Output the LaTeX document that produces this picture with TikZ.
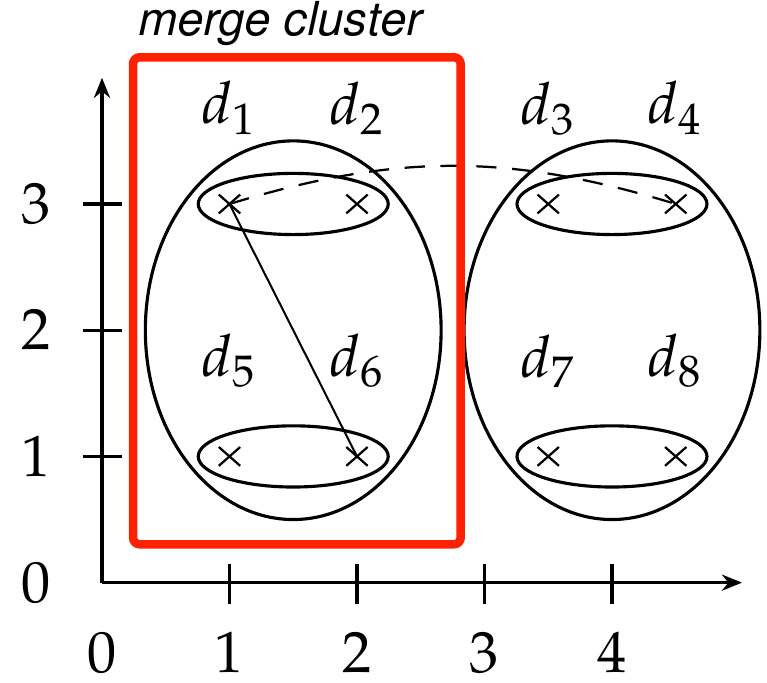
\documentclass[tikz,border=0pt]{standalone}
\usepackage[T1]{fontenc}
\usepackage{mathpazo}
\usepackage[scaled=0.95]{helvet}
\usepackage{tikz}
\usetikzlibrary{positioning,shapes.geometric,shapes.misc,arrows.meta}
\definecolor{mergered}{RGB}{255,34,0}
\newcommand{\doc}[1]{\ensuremath{d_{#1}}}

\begin{document}
\begin{tikzpicture}[x=1cm, y=0.99cm, font=\fontsize{13}{15}\selectfont]
  \tikzset{every node/.style={inner sep=0pt},
    point/.style={cross out,draw,line width=0.5pt,minimum width=0.15cm,minimum height=0.13cm},
    pair/.style={ellipse,draw,line width=0.7pt,minimum width=1.49cm,minimum height=0.48cm},
    cluster/.style={ellipse,draw,line width=0.7pt,minimum width=2.32cm,minimum height=2.97cm},
    axis/.style={line width=0.7pt,-{Stealth[length=4.5pt,width=3.6pt]}},
    tick/.style={line width=0.7pt},
    mergebox/.style={draw=mergered,line width=1.9pt,rounded corners=1.5pt}}
  \useasboundingbox (-0.8,-0.792) rectangle (5.216,4.616);
  \coordinate (O) at (0,0);
  \coordinate (x-end) at (5.02,0);
  \coordinate (y-end) at (0,4.0);
  \draw[axis] (O) -- (x-end);
  \draw[axis] (O) -- (y-end);
  \draw[tick] (1,-0.17) -- (1,0.15);
  \draw[tick] (2,-0.17) -- (2,0.15);
  \draw[tick] (3,-0.17) -- (3,0.15);
  \draw[tick] (4,-0.17) -- (4,0.15);
  \draw[tick] (-0.15,1) -- (0.16,1);
  \draw[tick] (-0.15,2) -- (0.16,2);
  \draw[tick] (-0.15,3) -- (0.16,3);
  \node (xl-0) at (0,-0.555) {$0$};
  \node (xl-1) at (1,-0.555) {$1$};
  \node (xl-2) at (2,-0.555) {$2$};
  \node (xl-3) at (3,-0.555) {$3$};
  \node (xl-4) at (4,-0.555) {$4$};
  \node (yl-0) at (-0.52,0) {$0$};
  \node (yl-1) at (-0.52,1) {$1$};
  \node (yl-2) at (-0.52,2) {$2$};
  \node (yl-3) at (-0.52,3) {$3$};

  \node[cluster] (clu-1) at (1.5,2) {};
  \node[cluster] (clu-2) at (4.0,2) {};
  \node[pair] (pair-1-1) at (1.5,3) {};
  \node[pair] (pair-1-2) at (1.5,1) {};
  \node[pair] (pair-2-1) at (4.0,3) {};
  \node[pair] (pair-2-2) at (4.0,1) {};

  \node[point] (X-1) at (1,3) {};
  \node[point] (X-2) at (2,3) {};
  \node[point] (X-3) at (3.5,3) {};
  \node[point] (X-4) at (4.5,3) {};
  \node[point] (X-5) at (1,1) {};
  \node[point] (X-6) at (2,1) {};
  \node[point] (X-7) at (3.5,1) {};
  \node[point] (X-8) at (4.5,1) {};
  \node[above=0.46cm of X-1] (L-1) {\doc{1}};
  \node[above=0.46cm of X-2] (L-2) {\doc{2}};
  \node[above=0.46cm of X-3] (L-3) {\doc{3}};
  \node[above=0.46cm of X-4] (L-4) {\doc{4}};
  \node[above=0.46cm of X-5] (L-5) {\doc{5}};
  \node[above=0.46cm of X-6] (L-6) {\doc{6}};
  \node[above=0.46cm of X-7] (L-7) {\doc{7}};
  \node[above=0.46cm of X-8] (L-8) {\doc{8}};

  \draw[line width=0.45pt] (X-1.center) -- (X-6.center);
  \draw[line width=0.5pt,dash pattern=on 4.5pt off 3.5pt] (X-1.center) to[bend left=17] (X-4.center);

  \node[mergebox,anchor=south west,minimum width=2.57cm,minimum height=3.82cm] (merge) at (0.21,0.27) {};
  \node[above right=0.045cm and 0.05cm of merge.north west,font=\sffamily\itshape\fontsize{11}{13}\selectfont] (merge-label) {merge cluster};
\end{tikzpicture}
\end{document}
